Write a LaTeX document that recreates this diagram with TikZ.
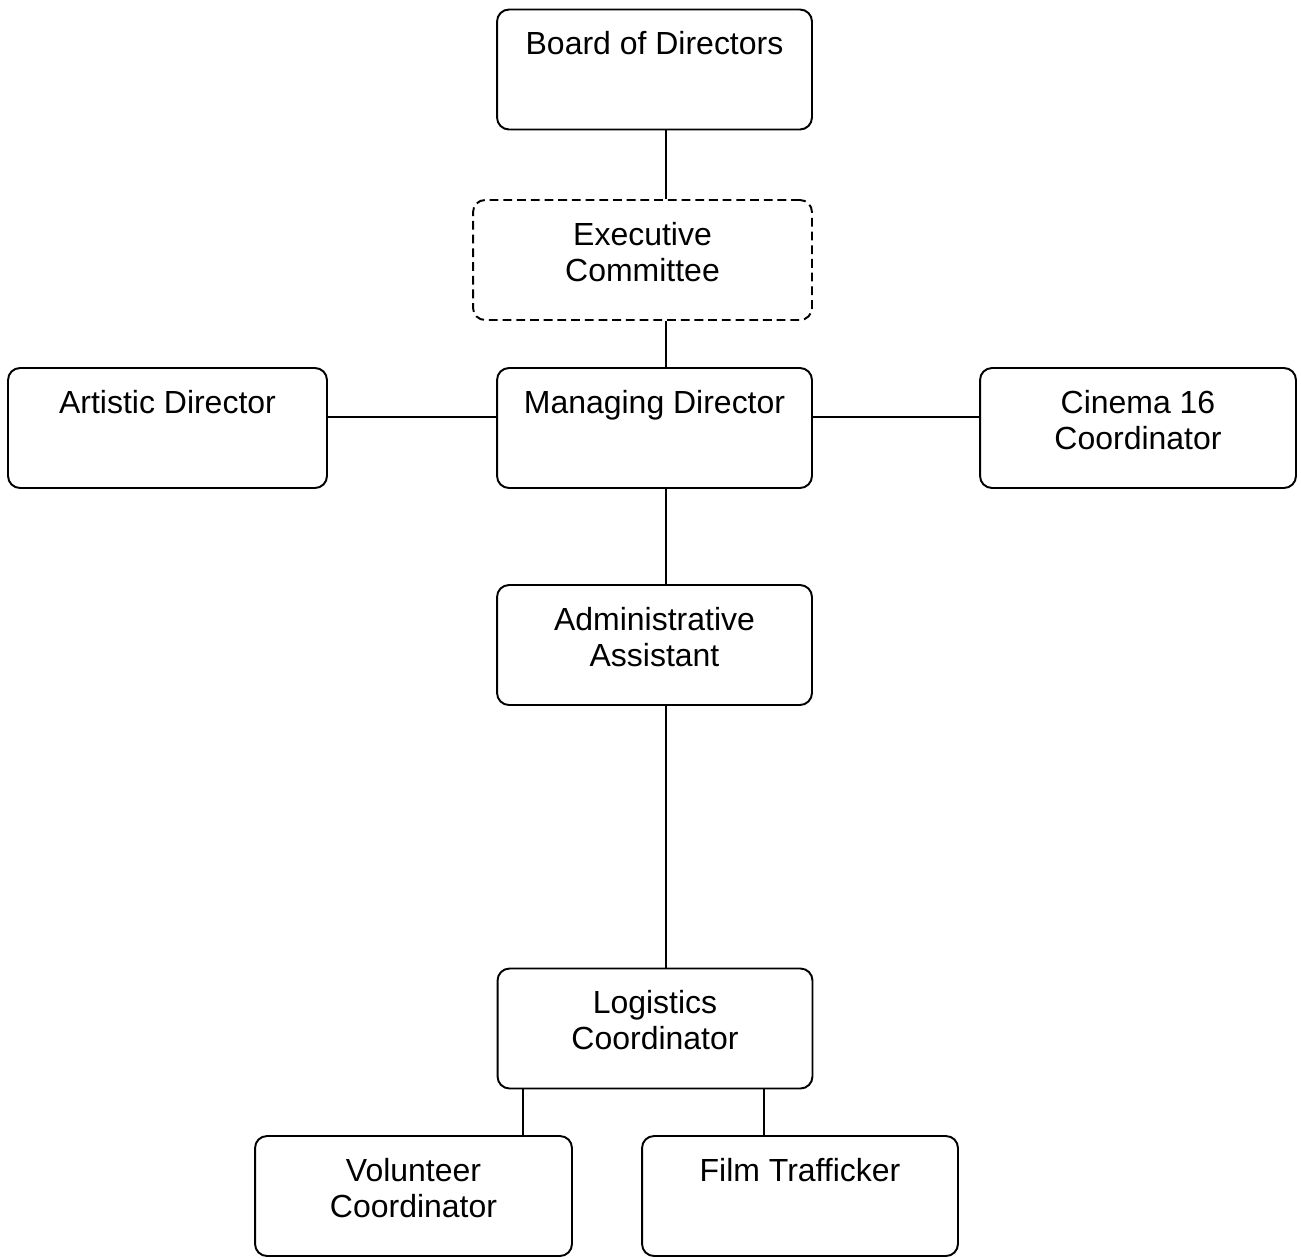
\documentclass[tikz,border=0pt]{standalone}
\usepackage{fontspec}
\setmainfont{Liberation Sans}
\begin{document}
\begin{tikzpicture}[x=0.02cm,y=-0.02cm]
        \tikzstyle{every node}+=[inner sep=0pt]
        \tikzstyle{orgbox}=[draw=black, rounded corners=0.24cm, line width=1.1pt, minimum width=6.3cm, minimum height=2.4cm]
        \tikzstyle{orgtext}=[anchor=north, align=center, yshift=-0.45cm, font=\fontsize{18.2}{20.5}\selectfont]
        \tikzstyle{thickline}=[black, line width=1.1pt]
        \tikzstyle{thinline}=[black, line width=0.6pt]
        \useasboundingbox (0,0) rectangle (1301,1258);
        \node [orgbox, label={[orgtext]north:Board of Directors}] (bod) at (654.5,69.5) {};
        \node [orgbox, dash pattern=on 5pt off 2.8pt, minimum width=6.78cm, label={[orgtext]north:{Executive\\Committee}}] (exec) at (642.5,260) {};
        \node [orgbox, minimum width=6.38cm, label={[orgtext]north:Artistic Director}] (art) at (167.5,428) {};
        \node [orgbox, label={[orgtext]north:Managing Director}] (md) at (654.5,428) {};
        \node [orgbox, minimum width=6.32cm, label={[orgtext]north:{Cinema 16\\Coordinator}}] (cin) at (1138,428) {};
        \node [orgbox, label={[orgtext]north:{Administrative\\Assistant}}] (adm) at (654.5,645) {};
        \node [orgbox, label={[orgtext]north:{Logistics\\Coordinator}}] (log) at (655,1028.5) {};
        \node [orgbox, minimum width=6.34cm, label={[orgtext]north:{Volunteer\\Coordinator}}] (vol) at (413.5,1196) {};
        \node [orgbox, minimum width=6.32cm, label={[orgtext]north:Film Trafficker}] (film) at (800,1196) {};
        \coordinate (spine) at (666,0);
        \coordinate (arm) at (0,417);
        \coordinate (volx) at (523,0);
        \coordinate (filmx) at (764,0);
        \draw [thickline] (bod.south -| spine) -- (exec.north -| spine);
        \draw [thinline] (exec.south -| spine) -- (md.north -| spine);
        \draw [thickline] (art.east |- arm) -- (md.west |- arm);
        \draw [thickline] (md.east |- arm) -- (cin.west |- arm);
        \draw [thinline] (md.south -| spine) -- (adm.north -| spine);
        \draw [thinline] (adm.south -| spine) -- (log.north -| spine);
        \draw [thinline] (log.south -| volx) -- (vol.north -| volx);
        \draw [thinline] (log.south -| filmx) -- (film.north -| filmx);
\end{tikzpicture}
\end{document}
